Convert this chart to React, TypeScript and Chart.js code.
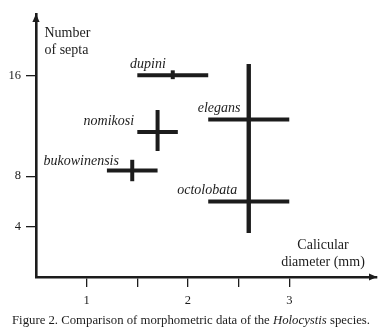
import React, { useEffect, useRef } from "react";
import { Chart, registerables } from "chart.js";

Chart.register(...registerables);

// ---- data ----
const species = ["dupini", "nomikosi", "bukowinensis", "elegans", "octolobata"];
const diamMin = [1.5, 1.5, 1.2, 2.2, 2.2];
const diamMax = [2.2, 1.9, 1.7, 3.0, 3.0];
const diamMid = [1.85, 1.7, 1.45, 2.6, 2.6];
const septaMin = [15.7, 10, 7.6, 3.5, 3.5];
const septaMax = [16.4, 13.25, 9.3, 16.9, 16.9];
const septaMid = [16, 11.5, 8.45, 12.5, 6];

const xTickValues = [1, 1.5, 2, 2.5, 3];
const xTickLabels = ["1", "", "2", "", "3"];
const yTickValues = [4, 8, 16];

const yTitle = ["Number", "of septa"];
const xTitle = ["Calicular", "diameter (mm)"];

// ---- layout / style (not data) ----
const INK = "#1c1c1c";
const FONT = "'Liberation Serif', 'Times New Roman', serif";
const LABEL_OFFSETS: [number, number][] = [
  [-7, -11],
  [-23.4, -10.3],
  [-13.3, -9.7],
  [-8.3, -11],
  [-11.6, -11],
];

const annotations = {
  id: "annotations",
  afterDraw(chart: any) {
    const { ctx, chartArea, scales } = chart;
    const xs = scales.x;
    const ys = scales.y;
    ctx.save();
    // arrowheads
    ctx.fillStyle = INK;
    ctx.beginPath();
    ctx.moveTo(chartArea.left, chartArea.top);
    ctx.lineTo(chartArea.left - 3.6, chartArea.top + 8);
    ctx.lineTo(chartArea.left + 3.6, chartArea.top + 8);
    ctx.closePath();
    ctx.fill();
    ctx.beginPath();
    ctx.moveTo(chartArea.right, chartArea.bottom);
    ctx.lineTo(chartArea.right - 8, chartArea.bottom - 3.5);
    ctx.lineTo(chartArea.right - 8, chartArea.bottom + 3.5);
    ctx.closePath();
    ctx.fill();

    // species labels
    ctx.font = `italic 14px ${FONT}`;
    ctx.textAlign = "right";
    ctx.textBaseline = "middle";
    species.forEach((name, i) => {
      const px = xs.getPixelForValue(diamMid[i]) + LABEL_OFFSETS[i][0];
      const py = ys.getPixelForValue(septaMid[i]) + LABEL_OFFSETS[i][1];
      ctx.fillText(name, px, py);
    });

    // axis titles
    ctx.font = `14px ${FONT}`;
    ctx.textAlign = "left";
    ctx.fillText(yTitle[0], chartArea.left + 8.5, 33);
    ctx.fillText(yTitle[1], chartArea.left + 8.5, 50);
    ctx.textAlign = "center";
    ctx.fillText(xTitle[0], 323, 245);
    ctx.fillText(xTitle[1], 323, 262);
    ctx.restore();
  },
};

export default function App() {
  const ref = useRef<HTMLCanvasElement | null>(null);

  useEffect(() => {
    if (!ref.current) return;
    const datasets: any[] = [];
    species.forEach((name, i) => {
      datasets.push({
        label: name + " diameter",
        data: [
          { x: diamMin[i], y: septaMid[i] },
          { x: diamMax[i], y: septaMid[i] },
        ],
      });
      datasets.push({
        label: name + " septa",
        data: [
          { x: diamMid[i], y: septaMin[i] },
          { x: diamMid[i], y: septaMax[i] },
        ],
      });
    });
    datasets.forEach((d) => {
      d.showLine = true;
      d.pointRadius = 0;
      d.borderWidth = 4;
      d.borderColor = INK;
      d.borderCapStyle = "butt";
    });

    const chart = new Chart(ref.current, {
      type: "scatter",
      data: { datasets },
      options: {
        animation: false,
        responsive: true,
        maintainAspectRatio: false,
        layout: { padding: { left: 0, right: 13, top: 14, bottom: 0 } },
        plugins: { legend: { display: false }, tooltip: { enabled: false } },
        scales: {
          x: {
            type: "linear",
            min: 0.5,
            max: 3.866,
            afterBuildTicks: (scale: any) => {
              scale.ticks = xTickValues.map((v) => ({ value: v }));
            },
            afterFit: (scale: any) => {
              scale.height = 59;
            },
            ticks: {
              autoSkip: false,
              maxRotation: 0,
              padding: 6,
              color: INK,
              font: { family: FONT, size: 12.5 },
              callback: (v: any) => {
                const idx = xTickValues.indexOf(Number(v));
                return idx >= 0 ? xTickLabels[idx] : "";
              },
            },
            grid: {
              display: true,
              drawOnChartArea: false,
              drawTicks: true,
              tickLength: 10,
              color: INK,
              lineWidth: 1.3,
            },
            border: { display: true, color: INK, width: 2.6 },
          },
          y: {
            type: "linear",
            min: 0,
            max: 20.87,
            afterBuildTicks: (scale: any) => {
              scale.ticks = yTickValues.map((v) => ({ value: v }));
            },
            afterFit: (scale: any) => {
              scale.width = 36;
            },
            ticks: {
              autoSkip: false,
              padding: 5,
              color: INK,
              font: { family: FONT, size: 12.5 },
              callback: (v: any) => String(v),
            },
            grid: {
              display: true,
              drawOnChartArea: false,
              drawTicks: true,
              tickLength: 10,
              color: INK,
              lineWidth: 1.3,
            },
            border: { display: true, color: INK, width: 2.6 },
          },
        },
      },
      plugins: [annotations],
    } as any);
    return () => chart.destroy();
  }, []);

  return (
    <div style={{ position: "fixed", left: 0, top: 0, width: 390, height: 336, background: "#fff" }}>
      <canvas ref={ref} />
      <div
        style={{
          position: "absolute",
          left: 12,
          top: 312,
          fontFamily: FONT,
          fontSize: 12.75,
          lineHeight: "16px",
          color: INK,
          whiteSpace: "nowrap",
        }}
      >
        Figure 2. Comparison of morphometric data of the <i>Holocystis</i> species.
      </div>
    </div>
  );
}
